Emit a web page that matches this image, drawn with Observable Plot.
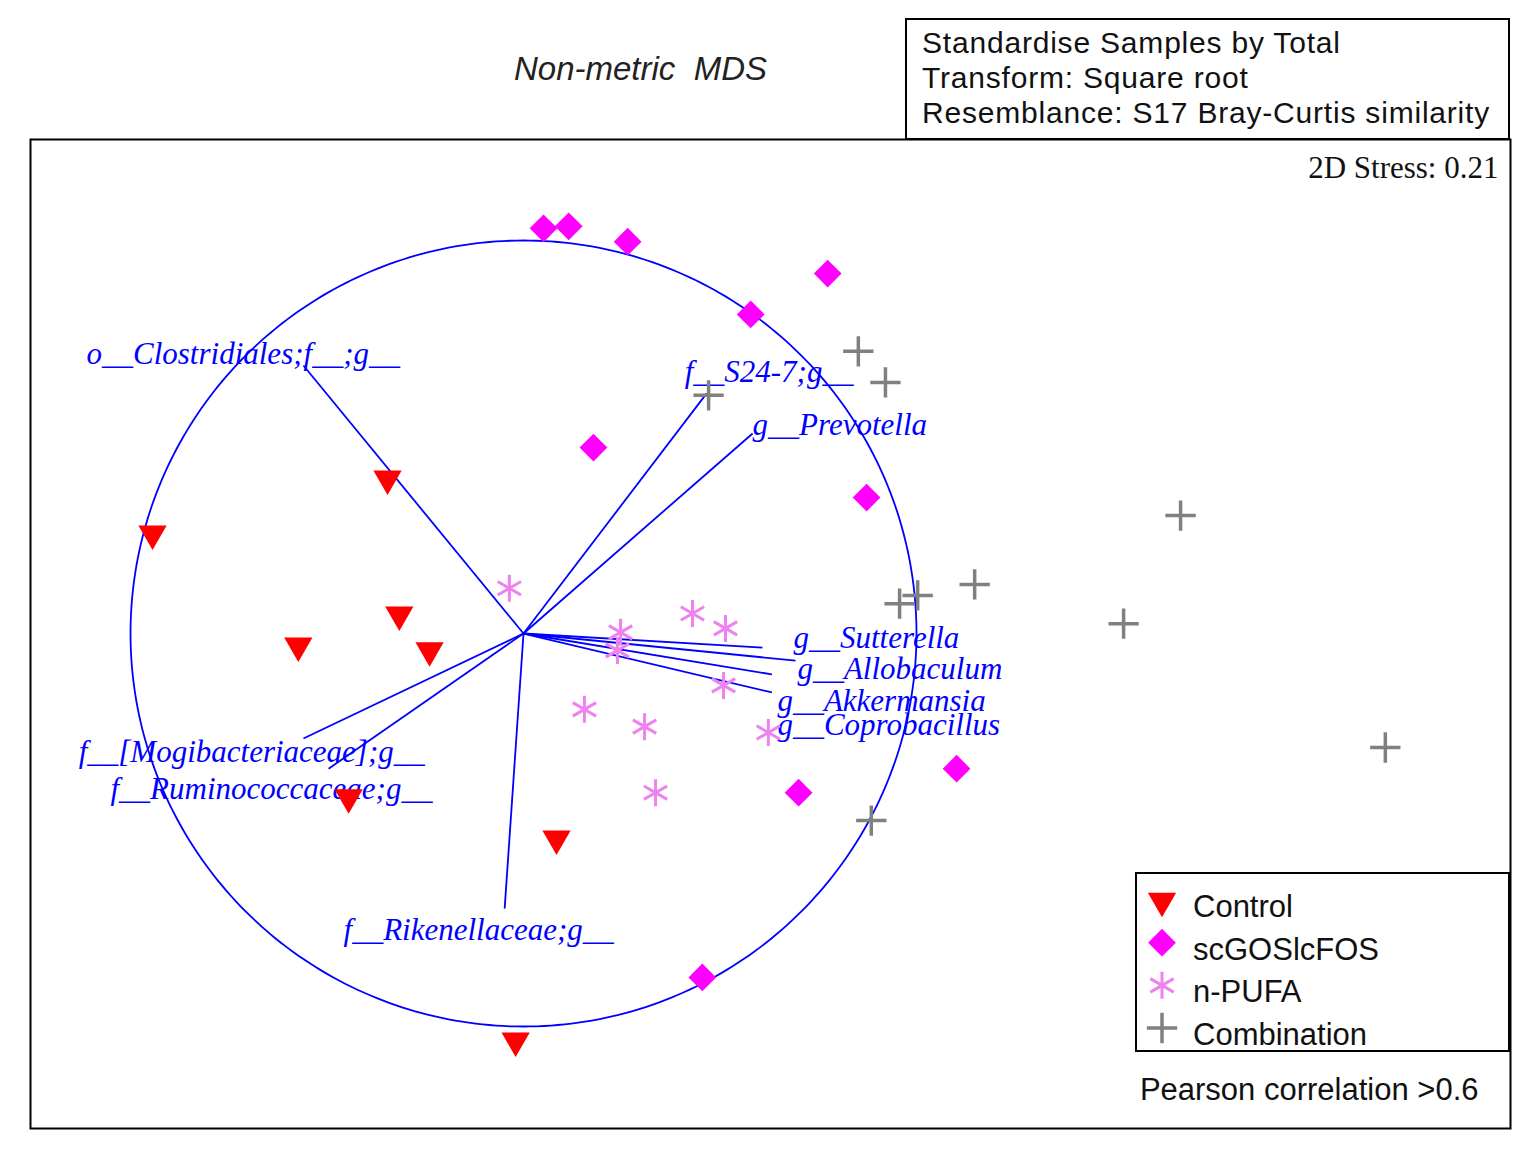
<!DOCTYPE html>
<html>
<head>
<meta charset="utf-8">
<script src="https://cdn.jsdelivr.net/npm/d3@7"></script>
<script src="https://cdn.jsdelivr.net/npm/@observablehq/plot@0.6"></script>
<style>
  html, body { margin: 0; padding: 0; background: #fff; }
  #page { position: relative; width: 1531px; height: 1154px; overflow: hidden; }
  #header { position: relative; height: 137px; }
  #title { position: absolute; left: 514px; top: 52px; font: italic 33px "Liberation Sans", Arial, sans-serif; line-height: 33px; white-space: pre; color: #222; }
  #info { position: absolute; left: 905px; top: 18px; width: 605px; height: 122px; box-sizing: border-box; border: 2px solid #000; padding: 5px 0 0 15px; font: 30px "Liberation Sans", Arial, sans-serif; line-height: 35px; letter-spacing: 0.8px; color: #111; background: #fff; z-index: 2; white-space: pre; }
  #legend { position: absolute; left: 1135px; top: 872px; z-index: 3; }
</style>
</head>
<body>
<div id="page">
  <div id="header">
    <div id="title"></div>
    <div id="info"></div>
  </div>
  <div id="chart"></div>
  <div id="legend"></div>
</div>
<script>
// ---------- data (MDS coordinates) ----------
const titleText = "Non-metric  MDS";
const infoLines = ["Standardise Samples by Total", "Transform: Square root", "Resemblance: S17 Bray-Curtis similarity"];
const stressText = "2D Stress: 0.21";
const correlationText = "Pearson correlation >0.6";

const groups = ["Control", "scGOSlcFOS", "n-PUFA", "Combination"];

const controlX = [-0.346, -0.944, -0.316, -0.573, -0.239, -0.445, 0.084, -0.020];
const controlY = [0.394, 0.254, 0.048, -0.031, -0.043, -0.417, -0.522, -1.036];

const scgosX = [0.051, 0.115, 0.265, 0.774, 0.578, 0.178, 0.873, 1.102, 0.700, 0.455];
const scgosY = [1.031, 1.036, 0.997, 0.916, 0.812, 0.473, 0.346, -0.344, -0.405, -0.875];

const pufaX = [-0.036, 0.247, 0.239, 0.430, 0.514, 0.509, 0.155, 0.308, 0.623, 0.336];
const pufaY = [0.115, 0.003, -0.043, 0.051, 0.013, -0.132, -0.193, -0.237, -0.252, -0.405];

const comboX = [0.852, 0.921, 0.471, 1.672, 1.148, 1.003, 0.957, 1.527, 2.193, 0.885];
const comboY = [0.718, 0.639, 0.606, 0.300, 0.125, 0.097, 0.076, 0.025, -0.290, -0.476];

// correlation vectors (Pearson r > 0.6)
const taxa = ["o__Clostridiales;f__;g__", "f__S24-7;g__", "g__Prevotella", "g__Sutterella",
  "g__Allobaculum", "g__Akkermansia", "g__Coprobacillus",
  "f__[Mogibacteriaceae];g__", "f__Ruminococcaceae;g__", "f__Rikenellaceae;g__"];
const vecX = [-0.560, 0.466, 0.583, 0.608, 0.692, 0.632, 0.632, -0.560, -0.496, -0.048];
const vecY = [0.682, 0.611, 0.509, -0.036, -0.069, -0.104, -0.150, -0.267, -0.344, -0.700];
// where each taxon label sits
const labelX = [-1.112, 0.410, 0.583, 0.687, 0.697, 0.646, 0.646, -1.132, -1.051, -0.458];
const labelY = [0.687, 0.641, 0.506, -0.036, -0.117, -0.196, -0.257, -0.326, -0.422, -0.781];

// ---------- build tables ----------
const toPts = (xs, ys) => xs.map((x, i) => ({x, y: ys[i]}));
const controlPts = toPts(controlX, controlY);
const scgosPts = toPts(scgosX, scgosY);
const pufaPts = toPts(pufaX, pufaY);
const comboPts = toPts(comboX, comboY);
const vectors = taxa.map((t, i) => ({taxon: t, x: vecX[i], y: vecY[i], lx: labelX[i], ly: labelY[i]}));
const unitCircle = d3.range(0, 361, 1).map(a => ({x: Math.cos(a * Math.PI / 180), y: Math.sin(a * Math.PI / 180)}));

// ---------- styles ----------
const BLUE = "#0000FF";
const styles = {
  "Control":     {symbol: "triangle", rotate: 180, r: 10.5, fill: "#FF0000", stroke: "none", strokeWidth: 0},
  "scGOSlcFOS":  {symbol: "diamond2", rotate: 0, r: 12.5, fill: "#FF00FF", stroke: "none", strokeWidth: 0},
  "n-PUFA":      {symbol: "asterisk", rotate: 0, r: 12.8, fill: "none", stroke: "#EE82EE", strokeWidth: 3},
  "Combination": {symbol: "plus", rotate: 0, r: 9.8, fill: "none", stroke: "#808080", strokeWidth: 3.5}
};
const sansFont = '"Liberation Sans", Arial, sans-serif';
const serifFont = '"Liberation Serif", "Times New Roman", serif';

document.getElementById("title").textContent = titleText;
document.getElementById("info").textContent = infoLines.join("\n");

const dotMark = (pts, g) => Plot.dot(pts, {x: "x", y: "y", ...styles[g]});

const chart = Plot.plot({
  width: 1531,
  height: 1017,
  marginTop: 2,
  marginLeft: 30,
  marginRight: 21,
  marginBottom: 26,
  x: {domain: [-1.2545, 2.5115], axis: null},
  y: {domain: [-1.2595, 1.2570], axis: null},
  style: {background: "white", overflow: "visible"},
  marks: [
    Plot.line(unitCircle, {x: "x", y: "y", stroke: BLUE, strokeWidth: 1.8}),
    Plot.link(vectors, {x1: 0, y1: 0, x2: "x", y2: "y", stroke: BLUE, strokeWidth: 1.8}),
    Plot.text(vectors, {x: "lx", y: "ly", text: "taxon", textAnchor: "start", lineAnchor: "bottom",
      fontFamily: serifFont, fontStyle: "italic", fontSize: 31, fill: BLUE}),
    dotMark(controlPts, "Control"),
    dotMark(scgosPts, "scGOSlcFOS"),
    dotMark(pufaPts, "n-PUFA"),
    dotMark(comboPts, "Combination"),
    Plot.text([stressText], {text: d => d, frameAnchor: "top-right", dx: -12, dy: 29, textAnchor: "end",
      lineAnchor: "middle", fontFamily: serifFont, fontSize: 31, fill: "#111"}),
    Plot.text([correlationText], {text: d => d, frameAnchor: "bottom-right", dx: -32, dy: -38, textAnchor: "end",
      lineAnchor: "middle", fontFamily: sansFont, fontSize: 31, fill: "#111", letterSpacing: "0.4px"}),
    Plot.frame({stroke: "#000", strokeWidth: 2})
  ]
});
document.getElementById("chart").appendChild(chart);

// ---------- legend ----------
const symbolTypes = {triangle: d3.symbolTriangle, diamond2: d3.symbolDiamond2, asterisk: d3.symbolAsterisk, plus: d3.symbolPlus};
const lw = 375, lh = 180;
const leg = d3.select("#legend").append("svg").attr("width", lw).attr("height", lh);
leg.append("rect").attr("x", 1).attr("y", 1).attr("width", lw - 2).attr("height", lh - 2)
  .attr("fill", "#fff").attr("stroke", "#000").attr("stroke-width", 2);
const rowY = d3.scalePoint().domain(groups).range([34, 162]);
groups.forEach(g => {
  const s = styles[g];
  const row = leg.append("g").attr("transform", `translate(0,${rowY(g)})`);
  row.append("path")
    .attr("d", d3.symbol(symbolTypes[s.symbol], Math.PI * s.r * s.r)())
    .attr("transform", `translate(27,${s.symbol === "triangle" ? -5 : -6}) rotate(${s.rotate})`)
    .attr("fill", s.fill).attr("stroke", s.stroke).attr("stroke-width", s.strokeWidth);
  row.append("text").attr("x", 58).attr("dy", "0.35em").text(g)
    .attr("font-family", sansFont).attr("font-size", 31).attr("fill", "#111");
});
</script>
</body>
</html>
